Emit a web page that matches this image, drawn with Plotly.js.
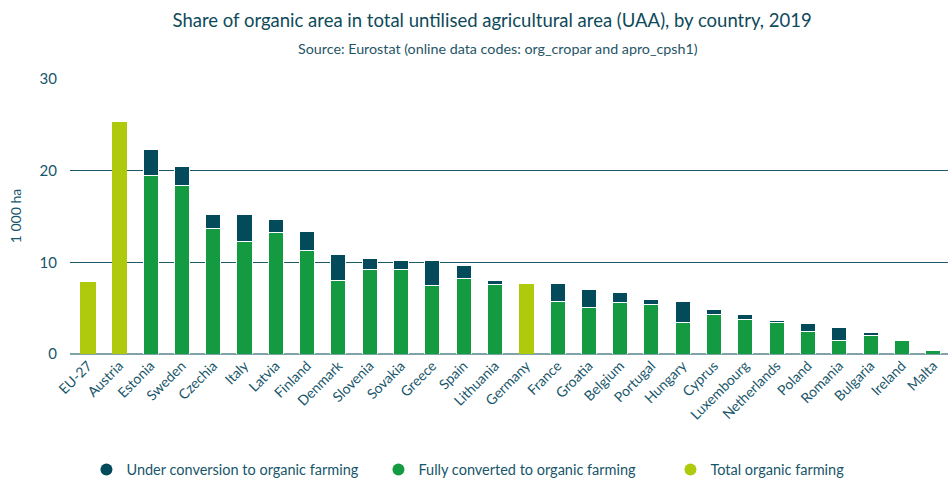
<!DOCTYPE html>
<html>
<head>
<meta charset="utf-8">
<script src="https://cdn.plot.ly/plotly-3.0.1.min.js"></script>
<style>html,body{margin:0;padding:0;background:#fff;}#chart{width:950px;height:480px;}</style>
</head>
<body>
<div id="chart"></div>
<script>
const countries = ["EU-27","Austria","Estonia","Sweden","Czechia","Italy","Latvia","Finland","Denmark","Slovenia","Sovakia","Greece","Spain","Lithuania","Germany","France","Groatia","Belgium","Portugal","Hungary","Cyprus","Luxembourg","Netherlands","Poland","Romania","Bulgaria","Ireland","Malta"];
const fullyConverted = [null,null,19.5,18.4,13.7,12.3,13.25,11.3,8.05,9.2,9.2,7.46,8.2,7.57,null,5.75,5.06,5.6,5.4,3.4,4.3,3.75,3.4,2.44,1.45,2.0,1.42,0.33];
const underConversion = [null,null,2.8,2.0,1.5,2.9,1.4,2.1,2.8,1.2,1.0,2.7,1.4,0.5,null,1.9,2.0,1.06,0.5,2.3,0.6,0.6,0.3,0.85,1.4,0.3,null,null];
const totalOrganic = [7.9,25.3,null,null,null,null,null,null,null,null,null,null,null,null,7.65,null,null,null,null,null,null,null,null,null,null,null,null,null];
const yTicks = [0,10,20,30];

const cDark = '#034a5b', cGreen = '#149b42', cLime = '#afc90c', cText = '#17566a';
const font = 'Lato, "Open Sans", sans-serif';

const traces = [
  {type:'bar', x:countries, y:fullyConverted, name:'Fully converted to organic farming', marker:{color:cGreen, line:{color:'#fff', width:1}}, showlegend:false},
  {type:'bar', x:countries, y:underConversion, name:'Under conversion to organic farming', marker:{color:cDark, line:{color:'#fff', width:1}}, showlegend:false},
  {type:'bar', x:countries, y:totalOrganic, name:'Total organic farming', marker:{color:cLime, line:{color:'#fff', width:0}}, showlegend:false},
  {type:'scatter', mode:'markers', x:[null], y:[null], name:'Under conversion to organic farming', marker:{color:cDark, size:13, symbol:'circle'}},
  {type:'scatter', mode:'markers', x:[null], y:[null], name:'Fully converted to organic farming', marker:{color:cGreen, size:13, symbol:'circle'}},
  {type:'scatter', mode:'markers', x:[null], y:[null], name:'Total organic farming', marker:{color:cLime, size:13, symbol:'circle'}}
];

const layout = {
  width:950, height:480,
  margin:{l:70, r:2, t:78, b:126, autoexpand:false},
  paper_bgcolor:'#fff', plot_bgcolor:'#fff',
  barmode:'stack', bargap:0.52,
  font:{family:font, color:cText, size:13},
  title:{text:'Share of organic area in total untilised agricultural area (UAA), by country, 2019', font:{family:font, size:18.5, color:'#0e4a5a'}, x:0.518, xanchor:'center', y:0.957, yanchor:'middle'},
  annotations:[{text:'Source: Eurostat (online data codes: org_cropar and apro_cpsh1)', xref:'paper', yref:'paper', x:0.487, y:1.0+(78-49)/276, xanchor:'center', yanchor:'middle', showarrow:false, font:{family:font, size:14.3, color:'#1f5566'}}],
  xaxis:{type:'category', range:[-0.575, 27.475], tickangle:-45, tickfont:{family:font, size:14, color:cText}, showgrid:false, showline:false, ticks:'', zeroline:false, fixedrange:true},
  yaxis:{range:[0,30.1], tickvals:yTicks, ticktext:yTicks.map(String), tickfont:{family:font, size:15, color:cText}, showgrid:true, gridcolor:'#1f5a6a', gridwidth:1.5, zeroline:true, zerolinecolor:'#7fa3a8', zerolinewidth:2, showline:false, ticks:'', ticklabelstandoff:12, title:{text:'1 000 ha', font:{family:font, size:14, color:cText}, standoff:14}},
  legend:{orientation:'h', traceorder:'normal', xref:'container', yref:'container', x:0.091, xanchor:'left', y:0.055, yanchor:'top', font:{family:font, size:14.5, color:cText}, entrywidth:247, entrywidthmode:'pixels', itemsizing:'constant'},
  showlegend:true
};

Plotly.newPlot('chart', traces, layout, {displayModeBar:false, staticPlot:true});
</script>
</body>
</html>
